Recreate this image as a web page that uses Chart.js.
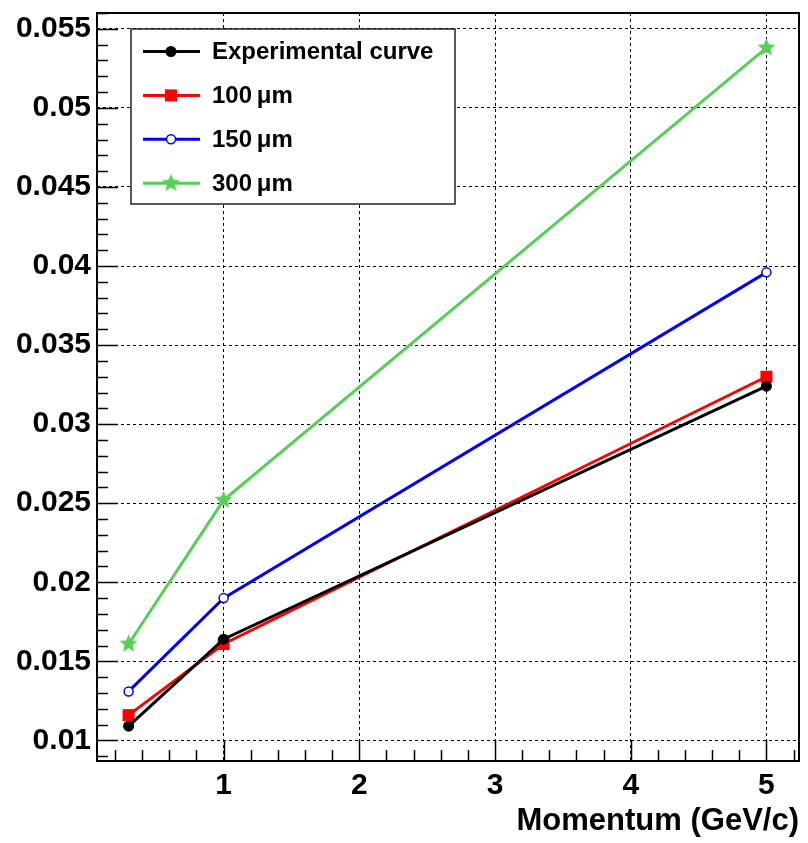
<!DOCTYPE html>
<html>
<head>
<meta charset="utf-8">
<script src="https://cdn.jsdelivr.net/npm/chart.js@4.4.1/dist/chart.umd.min.js"></script>
<style>
    html, body { margin: 0; padding: 0; background: #fff; }
    #chart { display: block; }
</style>
</head>
<body>
<canvas id="chart" width="808" height="843"></canvas>
<script>
// values
const momentum = [0.3, 1, 5];
const experimental = [0.0109, 0.0164, 0.0324];
const um100 = [0.0116, 0.0161, 0.0330];
const um150 = [0.0131, 0.0190, 0.0396];
const um300 = [0.0161, 0.0252, 0.0538];
const seriesLabels = ['Experimental curve', '100\u2009\u03bcm', '150\u2009\u03bcm', '300\u2009\u03bcm'];
const xTickLabels = [1, 2, 3, 4, 5];
const yTickLabels = [0.01, 0.015, 0.02, 0.025, 0.03, 0.035, 0.04, 0.045, 0.05, 0.055];

const FONT = "'Liberation Sans', Arial, sans-serif";

function makeStar(color, size) {
    const c = document.createElement('canvas');
    c.width = size;
    c.height = size;
    const g = c.getContext('2d');
    const r = size / 2;
    g.beginPath();
    for (let i = 0; i < 10; i++) {
        const a = -Math.PI / 2 + i * Math.PI / 5;
        const rr = i % 2 ? r * 0.45 : r;
        g.lineTo(r + rr * Math.cos(a), r + rr * Math.sin(a));
    }
    g.closePath();
    g.fillStyle = color;
    g.fill();
    return c;
}

function toPoints(ys) {
    return momentum.map((x, i) => ({ x: x, y: ys[i] }));
}

function isLabelled(list, v) {
    return list.find(t => Math.abs(t - v) < 1e-9);
}

const green = '#55d055';
const star = makeStar(green, 19);

const datasets = [
    { label: seriesLabels[0], data: toPoints(experimental), borderColor: '#000', backgroundColor: '#000',
      pointStyle: 'circle', pointRadius: 5.5, pointBorderWidth: 0 },
    { label: seriesLabels[1], data: toPoints(um100), borderColor: '#ff0000', backgroundColor: '#ff0000',
      pointStyle: 'rect', pointRadius: 8.5, pointBorderWidth: 0 },
    { label: seriesLabels[2], data: toPoints(um150), borderColor: '#0000ff', backgroundColor: '#fff',
      pointStyle: 'circle', pointRadius: 4.5, pointBorderWidth: 1.5 },
    { label: seriesLabels[3], data: toPoints(um300), borderColor: green, backgroundColor: green,
      pointStyle: star, pointRadius: 9, pointBorderWidth: 0 }
];
datasets.forEach(d => {
    d.borderWidth = 3;
    d.tension = 0;
    d.fill = false;
    d.pointBorderColor = d.borderColor;
    d.pointBackgroundColor = d.backgroundColor;
});

const frameAndLegend = {
    id: 'frameAndLegend',
    afterDraw(chart) {
        const ctx = chart.ctx;
        const area = chart.chartArea;
        const xs = chart.scales.x;
        const ys = chart.scales.y;
        ctx.save();
        ctx.strokeStyle = '#000';
        ctx.lineWidth = 1.5;
        ctx.beginPath();
        ys.ticks.forEach(t => {
            const py = Math.round(ys.getPixelForValue(t.value)) + 0.5;
            const len = isLabelled(yTickLabels, t.value) !== undefined ? 21 : 11;
            ctx.moveTo(area.left, py);
            ctx.lineTo(area.left + len, py);
        });
        xs.ticks.forEach(t => {
            const px = Math.round(xs.getPixelForValue(t.value)) + 0.5;
            const len = isLabelled(xTickLabels, t.value) !== undefined ? 21 : 11;
            ctx.moveTo(px, area.bottom);
            ctx.lineTo(px, area.bottom - len);
        });
        ctx.stroke();

        ctx.lineWidth = 2;
        ctx.strokeRect(area.left, area.top, area.right - area.left, area.bottom - area.top);

        // legend box
        const box = { left: 131, top: 29, right: 455, bottom: 204 };
        ctx.fillStyle = '#fff';
        ctx.fillRect(box.left, box.top, box.right - box.left, box.bottom - box.top);
        ctx.lineWidth = 1.5;
        ctx.strokeStyle = '#222';
        ctx.strokeRect(box.left, box.top, box.right - box.left, box.bottom - box.top);

        ctx.font = 'bold 24px ' + FONT;
        ctx.textAlign = 'left';
        ctx.textBaseline = 'middle';
        chart.data.datasets.forEach((d, i) => {
            const y = box.top + 22.5 + i * 43.9;
            ctx.strokeStyle = d.borderColor;
            ctx.lineWidth = 3;
            ctx.beginPath();
            ctx.moveTo(143, y);
            ctx.lineTo(200, y);
            ctx.stroke();
            ctx.fillStyle = d.pointBackgroundColor;
            ctx.strokeStyle = d.pointBorderColor;
            ctx.lineWidth = d.pointBorderWidth;
            Chart.helpers.drawPoint(ctx, {
                pointStyle: d.pointStyle, rotation: 0,
                radius: d.pointRadius, borderWidth: d.pointBorderWidth
            }, 171, y);
            ctx.fillStyle = '#000';
            ctx.fillText(d.label, 212, y + 1);
        });
        ctx.restore();
    }
};

function noPadding(scale) {
    scale.paddingLeft = 0;
    scale.paddingRight = 0;
    scale.paddingTop = 0;
    scale.paddingBottom = 0;
}

const config = {
    type: 'line',
    data: { datasets: datasets },
    options: {
        responsive: false,
        animation: false,
        layout: { padding: { top: 13, right: 7, left: 0, bottom: 0 } },
        plugins: {
            legend: { display: false },
            tooltip: { enabled: false }
        },
        scales: {
            x: {
                type: 'linear',
                min: 0.067,
                max: 5.24,
                afterBuildTicks: scale => {
                    const ticks = [];
                    for (let k = 1; k <= 26; k++) ticks.push({ value: k / 5 });
                    scale.ticks = ticks;
                },
                afterFit: scale => {
                    scale.height = 82;
                    noPadding(scale);
                },
                grid: {
                    drawTicks: false,
                    lineWidth: 1,
                    color: ctx => ctx.tick && isLabelled(xTickLabels, ctx.tick.value) !== undefined ? '#000' : 'rgba(0,0,0,0)'
                },
                border: { display: false, dash: [3, 3] },
                ticks: {
                    autoSkip: false,
                    maxRotation: 0,
                    padding: 7,
                    color: '#000',
                    font: { family: FONT, size: 30, weight: 'bold' },
                    callback: value => {
                        const t = isLabelled(xTickLabels, value);
                        return t !== undefined ? String(t) : '';
                    }
                },
                title: {
                    display: true,
                    text: 'Momentum (GeV/c)',
                    align: 'end',
                    color: '#000',
                    font: { family: FONT, size: 31, weight: 'bold' },
                    padding: { top: 0, bottom: 3 }
                }
            },
            y: {
                type: 'linear',
                min: 0.0087,
                max: 0.056,
                afterBuildTicks: scale => {
                    const ticks = [];
                    for (let k = 9; k <= 56; k++) ticks.push({ value: k / 1000 });
                    scale.ticks = ticks;
                },
                afterFit: scale => {
                    scale.width = 97;
                    noPadding(scale);
                },
                grid: {
                    drawTicks: false,
                    lineWidth: 1,
                    color: ctx => ctx.tick && isLabelled(yTickLabels, ctx.tick.value) !== undefined ? '#000' : 'rgba(0,0,0,0)'
                },
                border: { display: false, dash: [3, 3] },
                ticks: {
                    autoSkip: false,
                    padding: 6,
                    color: '#000',
                    font: { family: FONT, size: 30, weight: 'bold' },
                    callback: value => {
                        const t = isLabelled(yTickLabels, value);
                        return t !== undefined ? String(t) : '';
                    }
                }
            }
        }
    },
    plugins: [frameAndLegend]
};

new Chart(document.getElementById('chart'), config);
</script>
</body>
</html>
